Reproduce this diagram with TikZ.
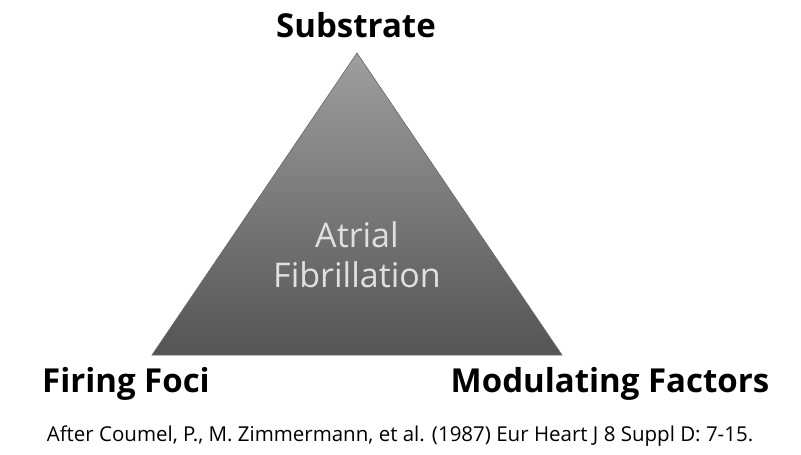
\documentclass[tikz,border=0pt]{standalone}
\usepackage{fontspec}
\setmainfont{Open Sans}
\usepackage{tikz}

\begin{document}
\begin{tikzpicture}[x=1pt,y=-1pt,
	corner/.style={font=\fontsize{33}{38}\selectfont\bfseries, text=black, inner sep=0pt, anchor=base},
	inside/.style={font=\fontsize{34}{40}\selectfont, text=white!88!black, align=center, inner sep=0pt}]
			\useasboundingbox (0,0) rectangle (801,455);
			\coordinate (apex) at (357,53);
			\coordinate (left) at (152,355);
			\coordinate (right) at (562,355);
			\shade[top color=black!38, bottom color=black!67, draw=black!60, line width=0.6pt] (apex) -- (right) -- (left) -- cycle;
			\node[inside] (af) at (357,255) {Atrial\\Fibrillation};
			\node[corner] (substrate) at (356,37) {Substrate};
			\node[corner] (foci) at (126,392) {Firing Foci};
			\node[corner] (factors) at (610,392) {Modulating Factors};
			\node[anchor=base, inner sep=0pt, font=\fontsize{20.5}{24}\selectfont] (source) at (400,441) {After Coumel, P., M. Zimmermann, et al. (1987) Eur Heart J 8 Suppl D: 7-15.};
		\end{tikzpicture}
\end{document}
